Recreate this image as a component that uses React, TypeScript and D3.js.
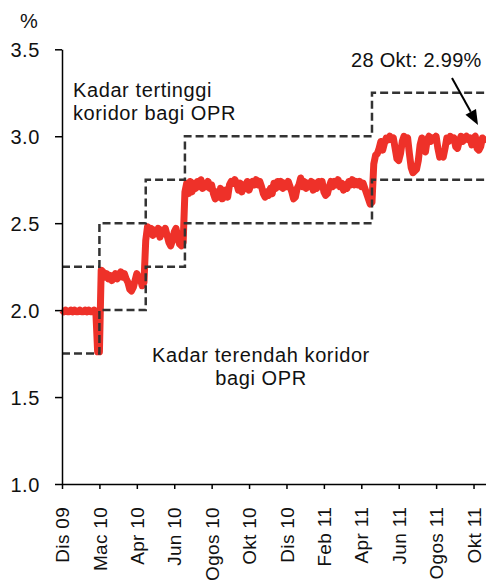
import React, { useRef, useEffect } from 'react';
import * as d3 from 'd3';

const WIDTH = 486;
const HEIGHT = 584;

// x axis: one label every 42 trading days
const tickLabels = ['Dis 09', 'Mac 10', 'Apr 10', 'Jun 10', 'Ogos 10', 'Okt 10', 'Dis 10', 'Feb 11', 'Apr 11', 'Jun 11', 'Ogos 11', 'Okt 11'];
const tickDays = [0, 42, 84, 126, 168, 210, 252, 294, 336, 378, 420, 462];
const yTicks = [1.0, 1.5, 2.0, 2.5, 3.0, 3.5];

// OPR corridor, day each setting starts (last entry closes the chart)
const corridorDays = [0, 42, 94, 138, 348, 476];
const corridorLow = [1.75, 2.0, 2.25, 2.5, 2.75, 2.75];
const corridorHigh = [2.25, 2.5, 2.75, 3.0, 3.25, 3.25];

const oprRate = [
  // Dis 09 - Mac 10
  2.00, 1.99, 2.00, 1.99, 1.99, 2.00, 1.99, 2.00, 1.99, 1.99,
  2.00, 1.99, 1.99, 2.00, 1.99, 2.00, 1.99, 1.99, 2.00, 1.99,
  1.76, 1.76,
  // OPR 2.25
  2.23, 2.22, 2.19, 2.21, 2.18, 2.20, 2.17, 2.19, 2.21, 2.18,
  2.20, 2.22, 2.19, 2.21, 2.18, 2.16, 2.12, 2.11, 2.13, 2.17,
  2.21, 2.19, 2.18, 2.14, 2.16, 2.40,
  // OPR 2.50
  2.48, 2.45, 2.47, 2.43, 2.46, 2.44, 2.47, 2.42, 2.46, 2.44,
  2.47, 2.43, 2.39, 2.37, 2.40, 2.45, 2.47, 2.42, 2.38, 2.37,
  2.39,
  // OPR 2.75
  2.68, 2.73, 2.67, 2.74, 2.68, 2.73,
  2.70, 2.74, 2.71, 2.75, 2.70, 2.73, 2.71, 2.74, 2.70, 2.72,
  2.67, 2.64, 2.68, 2.65, 2.70, 2.64, 2.66, 2.69, 2.65,
  2.72, 2.74, 2.73, 2.75, 2.73,
  2.69, 2.73, 2.68, 2.72, 2.70, 2.74, 2.69, 2.72,
  2.74, 2.72, 2.75, 2.72, 2.74, 2.71,
  2.67, 2.65, 2.68, 2.66, 2.70, 2.67,
  2.73, 2.70, 2.74, 2.71, 2.74, 2.70, 2.73,
  2.71, 2.74, 2.71,
  2.68, 2.64, 2.65, 2.70,
  2.72,
  2.76, 2.71, 2.74, 2.70, 2.73, 2.71, 2.74, 2.69, 2.73, 2.70,
  2.74, 2.72, 2.74,
  2.68, 2.66, 2.67, 2.71,
  2.74, 2.71, 2.74, 2.72, 2.75, 2.71,
  2.73, 2.69, 2.72, 2.70,
  2.74, 2.72, 2.75, 2.72, 2.74, 2.72,
  2.74, 2.71, 2.73, 2.70,
  2.67, 2.64, 2.61, 2.62,
  // OPR 3.00
  2.84, 2.89, 2.90, 2.93, 2.97, 2.92, 2.96, 2.99, 2.98, 3.00,
  2.98, 2.99, 2.93, 2.87, 2.86, 2.90, 2.97, 3.00, 2.98, 2.99,
  2.90, 2.82, 2.79, 2.80, 2.81, 2.86, 2.95, 2.99, 2.93, 2.91,
  2.98, 3.00, 2.97, 2.99, 2.98, 3.00, 2.93, 2.88, 2.89, 2.88,
  2.93, 2.99, 2.97, 3.00, 2.98, 2.99, 2.94, 2.93, 2.97, 3.00,
  2.97, 2.99, 3.00, 2.98, 2.99, 2.95, 2.99, 3.00, 2.93, 2.92,
  2.94, 2.99, 2.98, 2.99,
];

const arrowDay = 467;
const arrowValue = 2.99;

const App = () => {
  const svgRef = useRef(null);

  useEffect(() => {
    const svg = d3.select(svgRef.current);
    svg.selectAll('*').remove();

    const font = "'Liberation Sans', Arial, sans-serif";
    const ink = '#111';

    const x = d3.scaleLinear().domain([0, 476]).range([62, 486]);
    const y = d3.scaleLinear().domain([1, 3.5]).range([484, 49.3]);

    // overnight rate line
    const rateLine = d3.line<number>()
      .x((d, i) => x(i * 2))
      .y(d => y(d));

    svg.append('path')
      .datum(oprRate)
      .attr('fill', 'none')
      .attr('stroke', '#ee3129')
      .attr('stroke-width', 7)
      .attr('stroke-linejoin', 'round')
      .attr('d', rateLine);

    // corridor, dashed steps on top of the rate
    const stepLine = d3.line<[number, number]>()
      .x(d => x(d[0]))
      .y(d => y(d[1]))
      .curve(d3.curveStepAfter);

    [corridorLow, corridorHigh].forEach(levels => {
      svg.append('path')
        .datum(corridorDays.map((d, i) => [d, levels[i]] as [number, number]))
        .attr('fill', 'none')
        .attr('stroke', '#333')
        .attr('stroke-width', 2.5)
        .attr('stroke-dasharray', '8,4')
        .attr('d', stepLine);
    });

    // y axis
    const yAxis = svg.append('g')
      .attr('transform', 'translate(62,0)')
      .call(d3.axisLeft(y).tickValues(yTicks).tickFormat(d3.format('.1f')).tickSize(7).tickPadding(15).tickSizeOuter(0));
    yAxis.selectAll('path, line').attr('stroke', '#000').attr('stroke-width', 1.5);
    yAxis.selectAll('text')
      .attr('fill', ink)
      .attr('dy', '0.35em')
      .style('font-family', font)
      .style('font-size', '20px')
      .style('letter-spacing', '0.6px');

    // x axis, labels turned upright
    const xAxis = svg.append('g')
      .attr('transform', 'translate(0,484)')
      .call(d3.axisBottom(x).tickValues(tickDays).tickFormat((d, i) => tickLabels[i]).tickSize(5).tickSizeOuter(0));
    xAxis.selectAll('path, line').attr('stroke', '#000').attr('stroke-width', 1.5);
    xAxis.selectAll('text')
      .attr('transform', 'rotate(-90)')
      .attr('x', -23)
      .attr('y', 0)
      .attr('dy', '0.35em')
      .attr('text-anchor', 'end')
      .attr('fill', ink)
      .style('font-family', font)
      .style('font-size', '19px')
      .style('letter-spacing', '0.3px');

    const label = (tx, ty, txt, anchor = 'start', spacing = 0.6) => svg.append('text')
      .attr('x', tx)
      .attr('y', ty)
      .attr('text-anchor', anchor)
      .attr('fill', ink)
      .style('font-family', font)
      .style('font-size', '20px')
      .style('letter-spacing', `${spacing}px`)
      .text(txt);

    label(20, 28, '%');
    label(73, 97, 'Kadar tertinggi');
    label(73, 120, 'koridor bagi OPR');
    label(261, 362, 'Kadar terendah koridor', 'middle');
    label(261, 385, 'bagi OPR', 'middle');
    label(351, 67, '28 Okt: 2.99%', 'start', 0.3);

    // arrow to the latest reading
    const tip = [x(arrowDay), y(arrowValue) - 13];
    const tail = [452, 78];
    const len = Math.hypot(tip[0] - tail[0], tip[1] - tail[1]);
    const ux = (tip[0] - tail[0]) / len;
    const uy = (tip[1] - tail[1]) / len;
    const head = 15;
    const half = 6;
    const bx = tip[0] - ux * head;
    const by = tip[1] - uy * head;

    svg.append('line')
      .attr('x1', tail[0])
      .attr('y1', tail[1])
      .attr('x2', bx)
      .attr('y2', by)
      .attr('stroke', '#000')
      .attr('stroke-width', 2);

    svg.append('polygon')
      .attr('points', [
        [tip[0], tip[1]],
        [bx - uy * half, by + ux * half],
        [bx + uy * half, by - ux * half],
      ].map(p => p.join(',')).join(' '))
      .attr('fill', '#000');
  }, []);

  return (
    <svg
      ref={svgRef}
      width={WIDTH}
      height={HEIGHT}
      style={{ position: 'absolute', left: 0, top: 0, background: '#fff' }}
    />
  );
};

export default App;
